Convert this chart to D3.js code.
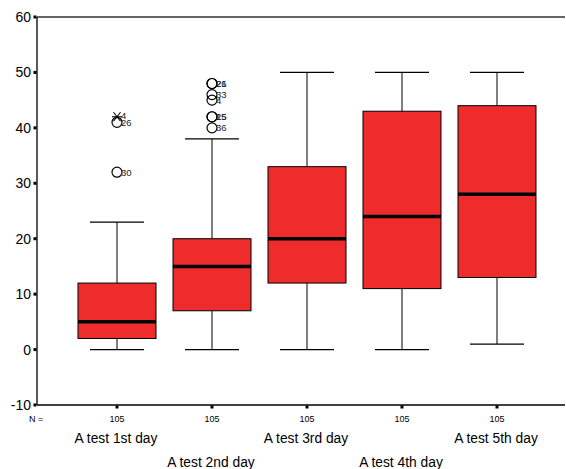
<!DOCTYPE html>
<html><head><meta charset="utf-8">
<script src="https://cdn.jsdelivr.net/npm/d3@7"></script>
<style>body{margin:0;background:#fff}svg{display:block;font-family:Arial,"Liberation Sans",sans-serif}</style>
</head><body>
<svg id="c" width="566" height="469"></svg>
<script>
const categories = ["A test 1st day","A test 2nd day","A test 3rd day","A test 4th day","A test 5th day"];
const nValues = [105,105,105,105,105];
const whiskerLow = [0,0,0,0,1];
const q1 = [2,7,12,11,13];
const median = [5,15,20,24,28];
const q3 = [12,20,33,43,44];
const whiskerHigh = [23,38,50,50,50];
// outliers: [categoryIndex, value, label, type]
const outliers = [
  [0,32,"30","o"],[0,41,"26","o"],[0,42,"4","*"],
  [1,48,"21","o"],[1,48,"26","o"],[1,46,"33","o"],[1,45,"4","o"],
  [1,42,"15","o"],[1,42,"25","o"],[1,40,"36","o"]
];
const yTicks = [60,50,40,30,20,10,0,-10];

const svg = d3.select("#c");
const y = d3.scaleLinear().domain([-10,60]).range([405,17]);
const x = d3.scalePoint().domain(categories).range([117,497]);
const boxW = 78, capW = 54;
const fill = "#ee2c2c";

// frame
svg.append("line").attr("x1",37).attr("x2",565).attr("y1",17).attr("y2",17).attr("stroke","#333").attr("stroke-width",1.3);
svg.append("line").attr("x1",37).attr("x2",565).attr("y1",405).attr("y2",405).attr("stroke","#000").attr("stroke-width",1.3);
svg.append("line").attr("x1",37).attr("x2",37).attr("y1",17).attr("y2",405).attr("stroke","#000").attr("stroke-width",1.3);

// y axis ticks and labels
const yt = svg.append("g");
yTicks.forEach(t=>{
  yt.append("rect").attr("x",33.5).attr("y",y(t)-1.5).attr("width",3).attr("height",3).attr("fill","#000");
  yt.append("text").attr("x",31).attr("y",y(t)+5).attr("text-anchor","end").attr("font-size",14).attr("fill","#000").text(t);
});

// x ticks, N, labels
svg.append("text").attr("x",29).attr("y",422).attr("font-size",9).text("N =");
categories.forEach((c,i)=>{
  const cx = x(c);
  svg.append("rect").attr("x",cx-1.5).attr("y",405.5).attr("width",3).attr("height",3).attr("fill","#000");
  svg.append("text").attr("x",cx).attr("y",422).attr("text-anchor","middle").attr("font-size",9).text(nValues[i]);
  svg.append("text").attr("x",cx-1).attr("y",i%2===0?443:467).attr("text-anchor","middle").attr("font-size",13.8).text(c);
});

// boxes
categories.forEach((c,i)=>{
  const cx = x(c);
  const g = svg.append("g");
  g.append("line").attr("x1",cx).attr("x2",cx).attr("y1",y(whiskerHigh[i])).attr("y2",y(q3[i])).attr("stroke","#000");
  g.append("line").attr("x1",cx).attr("x2",cx).attr("y1",y(whiskerLow[i])).attr("y2",y(q1[i])).attr("stroke","#000");
  g.append("line").attr("x1",cx-capW/2).attr("x2",cx+capW/2).attr("y1",y(whiskerHigh[i])).attr("y2",y(whiskerHigh[i])).attr("stroke","#000").attr("stroke-width",1.2);
  g.append("line").attr("x1",cx-capW/2).attr("x2",cx+capW/2).attr("y1",y(whiskerLow[i])).attr("y2",y(whiskerLow[i])).attr("stroke","#000").attr("stroke-width",1.2);
  g.append("rect").attr("x",cx-boxW/2).attr("y",y(q3[i])).attr("width",boxW).attr("height",y(q1[i])-y(q3[i]))
    .attr("fill",fill).attr("stroke","#000").attr("stroke-width",1);
  g.append("line").attr("x1",cx-boxW/2).attr("x2",cx+boxW/2).attr("y1",y(median[i])).attr("y2",y(median[i])).attr("stroke","#000").attr("stroke-width",3.5);
});

// outliers
outliers.forEach(([ci,v,lab,type])=>{
  const cx = x(categories[ci]), cy = y(v);
  if(type==="o"){
    svg.append("circle").attr("cx",cx).attr("cy",cy).attr("r",5).attr("fill","none").attr("stroke","#000").attr("stroke-width",1.2);
  } else {
    svg.append("line").attr("x1",cx-5).attr("y1",cy).attr("x2",cx+5).attr("y2",cy).attr("stroke","#000").attr("stroke-width",1.1);
    svg.append("line").attr("x1",cx-3.5).attr("y1",cy-4.5).attr("x2",cx+3.5).attr("y2",cy+4.5).attr("stroke","#000").attr("stroke-width",1.1);
    svg.append("line").attr("x1",cx+3.5).attr("y1",cy-4.5).attr("x2",cx-3.5).attr("y2",cy+4.5).attr("stroke","#000").attr("stroke-width",1.1);
  }
  const dy = type==="*" ? 2 : 3.5;
  svg.append("text").attr("x",cx+4).attr("y",cy+dy).attr("font-size",9.5).attr("fill","#222").text(lab);
});
</script>
</body></html>
